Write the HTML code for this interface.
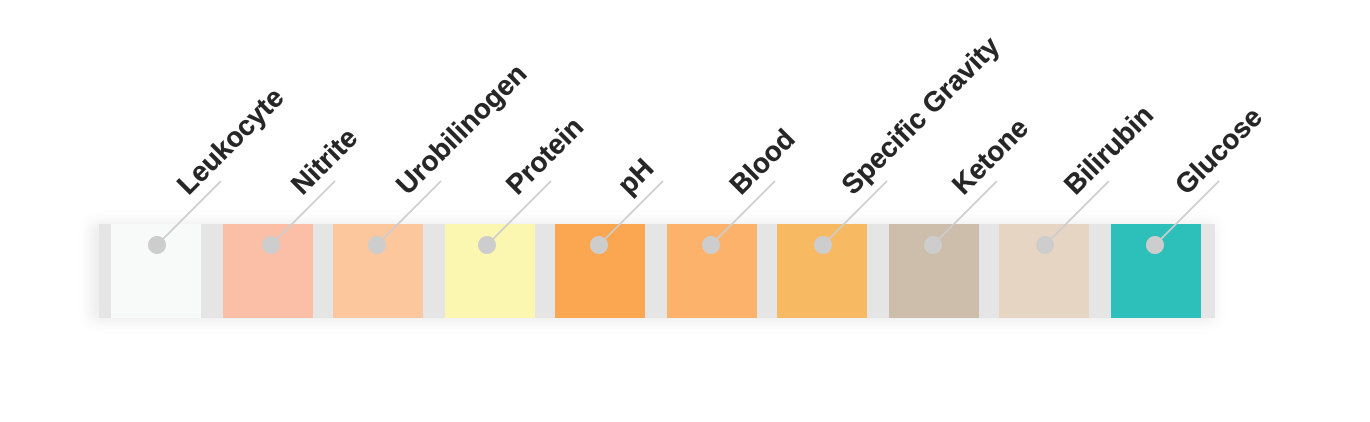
<!DOCTYPE html>
<html><head><meta charset="utf-8">
<style>
html,body{margin:0;padding:0;background:#fff;width:1370px;height:422px;overflow:hidden}
svg{display:block}
text{font-family:"Liberation Sans",sans-serif;font-weight:700;font-size:27.7px;fill:#262626;stroke:#262626;stroke-width:.3px}
</style></head><body>
<svg width="1370" height="422" viewBox="0 0 1370 422" xmlns="http://www.w3.org/2000/svg">
<defs><filter id="s" x="-5%" y="-40%" width="110%" height="180%"><feGaussianBlur stdDeviation="7"/></filter></defs>
<rect x="90" y="222" width="1125" height="100" fill="#000" opacity="0.07" filter="url(#s)"/>
<rect x="99" y="224" width="1116" height="94" fill="#e5e5e5"/>
<rect x="111" y="224" width="90" height="94" fill="#f8f9f9"/>
<rect x="223" y="224" width="90" height="94" fill="#fbbfa8"/>
<rect x="333" y="224" width="90" height="94" fill="#fdc79e"/>
<rect x="445" y="224" width="90" height="94" fill="#fcf7b0"/>
<rect x="555" y="224" width="90" height="94" fill="#fba651"/>
<rect x="667" y="224" width="90" height="94" fill="#fdb26c"/>
<rect x="777" y="224" width="90" height="94" fill="#f7b962"/>
<rect x="889" y="224" width="90" height="94" fill="#cdbdab"/>
<rect x="999" y="224" width="90" height="94" fill="#e7d5c3"/>
<rect x="1111" y="224" width="90" height="94" fill="#2dc0ba"/>
<g stroke="#cdcdcd" stroke-width="1.8" fill="none">
<line x1="157" y1="245" x2="221" y2="181"/>
<line x1="271" y1="245" x2="335" y2="181"/>
<line x1="377" y1="245" x2="441" y2="181"/>
<line x1="487" y1="245" x2="551" y2="181"/>
<line x1="599" y1="245" x2="663" y2="181"/>
<line x1="711" y1="245" x2="775" y2="181"/>
<line x1="823" y1="245" x2="887" y2="181"/>
<line x1="933" y1="245" x2="997" y2="181"/>
<line x1="1045" y1="245" x2="1109" y2="181"/>
<line x1="1155" y1="245" x2="1219" y2="181"/>
</g>
<g fill="#cdcdcd">
<circle cx="157" cy="245" r="9"/><circle cx="271" cy="245" r="9"/><circle cx="377" cy="245" r="9"/><circle cx="487" cy="245" r="9"/><circle cx="599" cy="245" r="9"/><circle cx="711" cy="245" r="9"/><circle cx="823" cy="245" r="9"/><circle cx="933" cy="245" r="9"/><circle cx="1045" cy="245" r="9"/><circle cx="1155" cy="245" r="9"/>
</g>
<text transform="translate(188.5 196) rotate(-45)">Leukocyte</text>
<text transform="translate(302.5 196) rotate(-45)">Nitrite</text>
<text transform="translate(407.5 196) rotate(-45)">Urobilinogen</text>
<text transform="translate(517.5 196) rotate(-45)">Protein</text>
<text transform="translate(629 196) rotate(-45)">pH</text>
<text transform="translate(741 196) rotate(-45)">Blood</text>
<text transform="translate(853 196) rotate(-45)">Specific Gravity</text>
<text transform="translate(963.5 196) rotate(-45)">Ketone</text>
<text transform="translate(1075.5 196) rotate(-45)">Bilirubin</text>
<text transform="translate(1186.5 196) rotate(-45)">Glucose</text>
</svg>
</body></html>
